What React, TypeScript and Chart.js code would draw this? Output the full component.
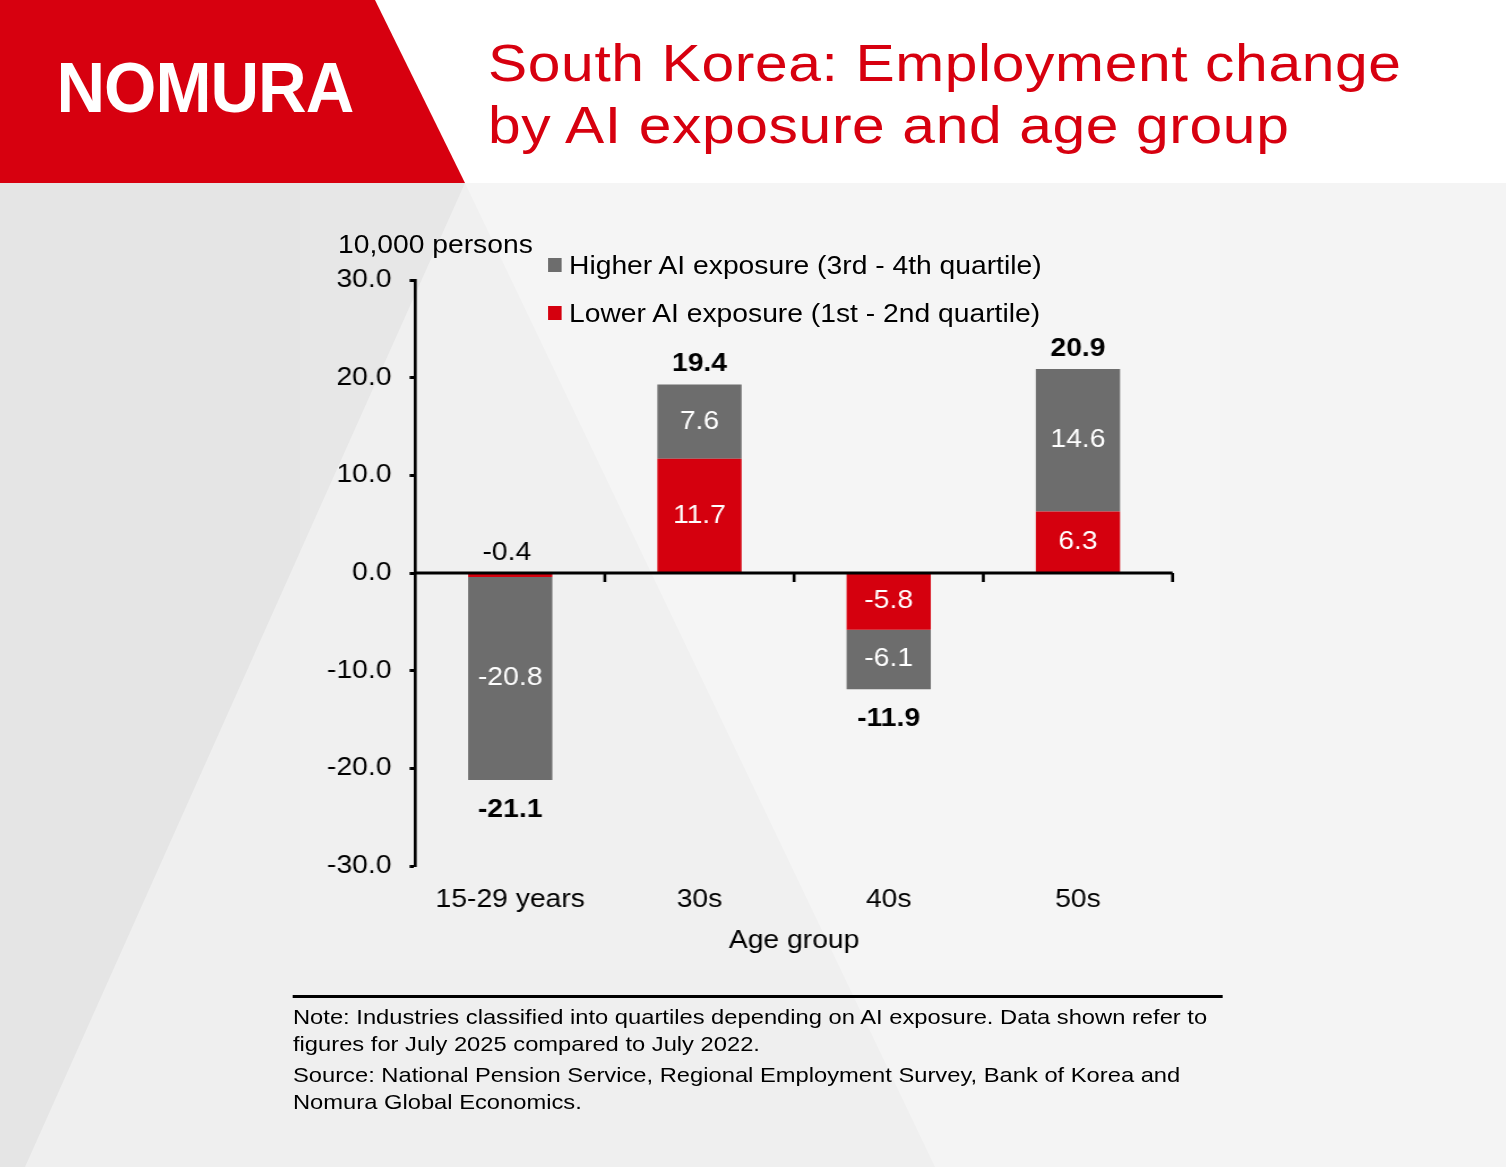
import React, { useEffect, useRef } from "react";
import { Chart, registerables } from "chart.js";

Chart.register(...registerables);

// values (10,000 persons)
const categories = ["15-29 years", "30s", "40s", "50s"];
const lowerAI = [-0.4, 11.7, -5.8, 6.3];
const higherAI = [-20.8, 7.6, -6.1, 14.6];
const totals = [-21.1, 19.4, -11.9, 20.9];
const yMin = -30;
const yMax = 30;
const yStep = 10;

const FONT = '"Liberation Sans", Arial, sans-serif';
const RED = "#d7000f";
const BAR_RED = "#d5000e";
const BAR_GREY = "#6d6d6d";

// the reference is stretched sideways, so the stage is drawn narrow and scaled
const S = 1.13;
const X = (v: number) => v / S;

const labelPlugin = {
    id: "barLabels",
    afterDatasetsDraw(chart: any) {
        const { ctx, chartArea, scales } = chart;
        const x = scales.x;
        const y = scales.y;
        const zero = y.getPixelForValue(0);
        ctx.save();
        ctx.textAlign = "center";
        ctx.textBaseline = "middle";

        chart.data.datasets.forEach((ds: any, di: number) => {
            chart.getDatasetMeta(di).data.forEach((bar: any, i: number) => {
                const v = ds.data[i] as number;
                const p = bar.getProps(["x", "y", "base"], true);
                ctx.font = `25px ${FONT}`;
                if (Math.abs(v) < 1) {
                    ctx.fillStyle = "#000";
                    ctx.fillText(v.toFixed(1), p.x - 3, zero - 20);
                } else {
                    ctx.fillStyle = "#fff";
                    ctx.fillText(v.toFixed(1), p.x, (p.y + p.base) / 2);
                }
            });
        });

        ctx.font = `bold 25px ${FONT}`;
        ctx.fillStyle = "#000";
        totals.forEach((t, i) => {
            const edge = y.getPixelForValue(lowerAI[i] + higherAI[i]);
            ctx.fillText(t.toFixed(1), x.getPixelForValue(i), t > 0 ? edge - 20 : edge + 30);
        });

        // zero line with category tick marks
        ctx.strokeStyle = "#000";
        ctx.lineWidth = 3;
        ctx.beginPath();
        ctx.moveTo(chartArea.left, zero);
        ctx.lineTo(chartArea.right, zero);
        ctx.stroke();
        const half = (x.getPixelForValue(1) - x.getPixelForValue(0)) / 2;
        ctx.lineWidth = X(3);
        categories.forEach((_c, i) => {
            const bx = x.getPixelForValue(i) + half;
            ctx.beginPath();
            ctx.moveTo(bx, zero);
            ctx.lineTo(bx, zero + 9);
            ctx.stroke();
        });
        ctx.restore();
    },
};

function EmploymentChart() {
    const canvas = useRef<HTMLCanvasElement>(null);

    useEffect(() => {
        const chart = new Chart(canvas.current!, {
            type: "bar",
            data: {
                labels: categories,
                datasets: [
                    { label: "Lower AI exposure (1st - 2nd quartile)", data: lowerAI, backgroundColor: BAR_RED },
                    { label: "Higher AI exposure (3rd - 4th quartile)", data: higherAI, backgroundColor: BAR_GREY },
                ],
            },
            options: {
                animation: false,
                responsive: true,
                maintainAspectRatio: false,
                categoryPercentage: 1,
                barPercentage: 0.445,
                layout: { padding: { left: 0, right: X(48), top: 97, bottom: 0 } },
                plugins: {
                    legend: { display: false },
                    tooltip: { enabled: false },
                },
                scales: {
                    x: {
                        stacked: true,
                        grid: { display: false },
                        border: { display: false },
                        ticks: { color: "#000", font: { family: FONT, size: 25 }, padding: 11 },
                        title: {
                            display: true,
                            text: "Age group",
                            color: "#000",
                            font: { family: FONT, size: 25 },
                            padding: { top: 0, bottom: 14 },
                        },
                        afterFit: (scale: any) => {
                            scale.height = 104;
                        },
                    },
                    y: {
                        stacked: true,
                        min: yMin,
                        max: yMax,
                        ticks: {
                            stepSize: yStep,
                            color: "#000",
                            font: { family: FONT, size: 25 },
                            padding: 16,
                            callback: (v: any) => Number(v).toFixed(1),
                        },
                        grid: {
                            drawOnChartArea: false,
                            drawTicks: true,
                            tickLength: X(6),
                            tickWidth: 3,
                            tickColor: "#000",
                        },
                        border: { display: true, color: "#000", width: X(3) },
                        afterFit: (scale: any) => {
                            scale.width = X(116);
                        },
                    },
                },
            },
            plugins: [labelPlugin],
        });

        return () => {
            chart.destroy();
        };
    }, []);

    return <canvas ref={canvas}></canvas>;
}

export default function App() {
    const text: React.CSSProperties = { position: "absolute", fontFamily: FONT, color: "#000", whiteSpace: "nowrap" };

    return (
        <div style={{ position: "absolute", left: 0, top: 0, width: 1506, height: 1167, overflow: "hidden", background: "#efefef" }}>
            {/* background shapes, in page pixels */}
            <div style={{ position: "absolute", inset: 0, background: "#e5e5e5", clipPath: "polygon(0px 183px, 465px 183px, 25px 1167px, 0px 1167px)" }} />
            <div style={{ position: "absolute", inset: 0, background: "#f4f4f4", clipPath: "polygon(465px 183px, 1506px 183px, 1506px 1167px, 935px 1167px)" }} />
            <div style={{ position: "absolute", left: 0, top: 0, width: 1506, height: 183, background: "#fff" }} />
            <div style={{ position: "absolute", inset: 0, background: RED, clipPath: "polygon(0px 0px, 375px 0px, 465px 183px, 0px 183px)" }} />
            <div style={{ position: "absolute", left: 300, top: 183, width: 920, height: 787, background: "rgba(255,255,255,0.1)" }} />

            {/* stage, stretched sideways like the reference */}
            <div style={{ position: "absolute", left: 0, top: 0, width: X(1506), height: 1167, transform: `scaleX(${S})`, transformOrigin: "0 0" }}>
                <div style={{ ...text, left: X(57), top: 52.7, fontSize: 70, lineHeight: "70px", fontWeight: 700, color: "#fff" }}>
                    <span style={{ display: "inline-block", transform: "scaleX(0.85)", transformOrigin: "0 0", letterSpacing: -1 }}>NOMURA</span>
                </div>
                <div style={{ ...text, left: X(488), top: 31.5, fontSize: 52, lineHeight: "62px", letterSpacing: 0.55, color: RED }}>
                    South Korea: Employment change
                    <br />
                    by AI exposure and age group
                </div>

                <div style={{ position: "absolute", left: X(300), top: 183, width: X(920), height: 787 }}>
                    <EmploymentChart />
                </div>

                <div style={{ ...text, left: X(338), top: 229, fontSize: 25, lineHeight: "30px" }}>10,000 persons</div>
                <div style={{ position: "absolute", left: X(548), top: 258, width: X(14), height: 14, background: BAR_GREY }} />
                <div style={{ ...text, left: X(569), top: 250, fontSize: 25, lineHeight: "30px" }}>Higher AI exposure (3rd - 4th quartile)</div>
                <div style={{ position: "absolute", left: X(548), top: 306, width: X(14), height: 14, background: BAR_RED }} />
                <div style={{ ...text, left: X(569), top: 298, fontSize: 25, lineHeight: "30px" }}>Lower AI exposure (1st - 2nd quartile)</div>

                <div style={{ position: "absolute", left: X(293), top: 995, width: X(930), height: 3, background: "#000" }} />
                <div style={{ ...text, left: X(293), top: 1002.5, fontSize: 21, lineHeight: "27px" }}>
                    <div>
                        Note: Industries classified into quartiles depending on AI exposure. Data shown refer to
                        <br />
                        figures for July 2025 compared to July 2022.
                    </div>
                    <div style={{ marginTop: 4 }}>
                        Source: National Pension Service, Regional Employment Survey, Bank of Korea and
                        <br />
                        Nomura Global Economics.
                    </div>
                </div>
            </div>
        </div>
    );
}
